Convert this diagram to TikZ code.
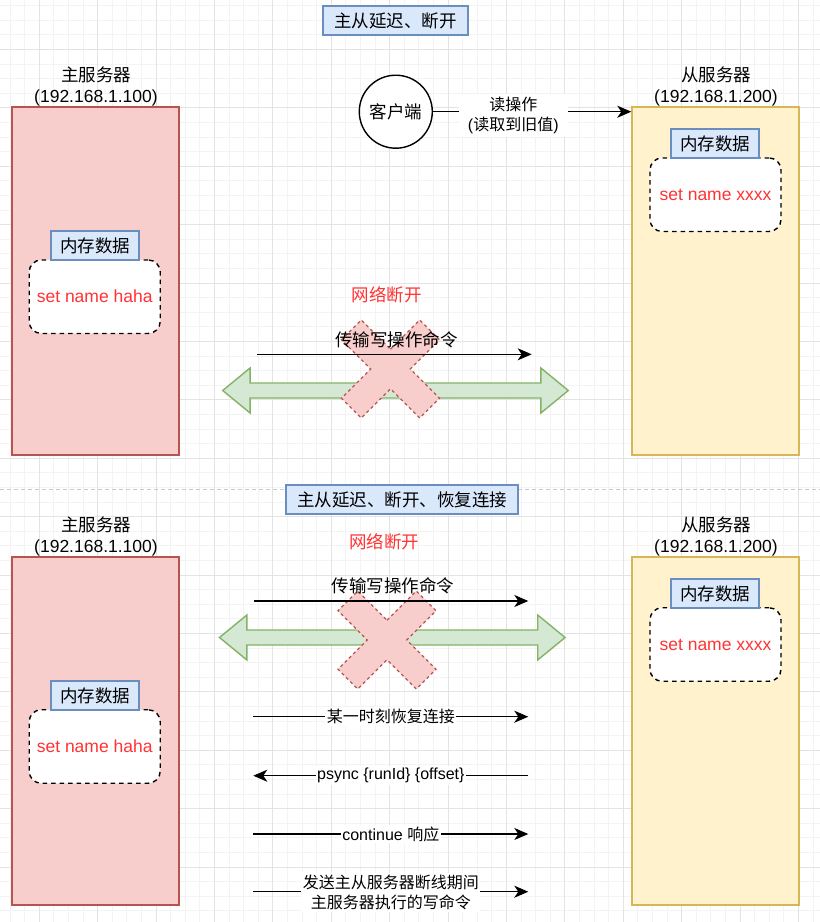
\documentclass[tikz,border=0pt]{standalone}
\usepackage{fontspec}
\setmainfont{Liberation Sans}
\newfontfamily\cjk{Noto Sans CJK SC}
\usetikzlibrary{arrows.meta}
\definecolor{redfill}{HTML}{F8CECC}
\definecolor{redline}{HTML}{B85450}
\definecolor{yelfill}{HTML}{FFF2CC}
\definecolor{yelline}{HTML}{D6B656}
\definecolor{bluefill}{HTML}{DAE8FC}
\definecolor{blueline}{HTML}{6C8EBF}
\definecolor{grnfill}{HTML}{D5E8D4}
\definecolor{grnline}{HTML}{82B366}
\definecolor{redtxt}{HTML}{FF3333}
\definecolor{gridmin}{HTML}{F3F3F3}
\definecolor{gridmaj}{HTML}{E3E3E3}
\definecolor{sepcol}{HTML}{C8C8C8}
\tikzset{
  big/.style={font=\fontsize{17.5}{20.5}\selectfont, inner sep=0pt, align=center},
  small/.style={font=\fontsize{16}{20}\selectfont, inner sep=0pt, align=center},
  titlebox/.style={big, draw=blueline, fill=bluefill, line width=1.4pt, minimum height=29pt},
  master/.style={draw=redline, fill=redfill, line width=1.4pt, minimum width=167pt, minimum height=348pt},
  slave/.style={draw=yelline, fill=yelfill, line width=1.4pt, minimum width=167pt, minimum height=348pt},
  memtag/.style={big, draw=blueline, fill=bluefill, line width=1.4pt, minimum width=88pt, minimum height=29pt},
  memdata/.style={big, text=redtxt, draw=black, fill=white, line width=1.4pt, dash pattern=on 4.5pt off 4pt, rounded corners=12pt, minimum width=131pt, minimum height=73.5pt},
  clientnode/.style={big, circle, draw=black, line width=1.4pt, fill=white, minimum size=73pt},
  arr/.style={line width=1.4pt, -{Stealth[length=14pt, width=12pt, inset=4pt]}},
  lbl/.style={small, fill=white, inner xsep=1.5pt, inner ysep=2pt},
  greenarrow/.style={draw=grnline, fill=grnfill, line width=1.4pt},
  crossshape/.style={draw=redline, fill=redfill, line width=1.2pt, dash pattern=on 3pt off 3pt},
  sepline/.style={draw=sepcol, line width=0.8pt, dash pattern=on 4pt off 3pt},
  gmin/.style={draw=gridmin, line width=0.8pt},
  gmaj/.style={draw=gridmaj, line width=0.8pt}
}
\begin{document}
\begin{tikzpicture}[x=1pt, y=-1pt]
\useasboundingbox (0,0) rectangle (820,922);
\fill[white] (0,0) rectangle (820,922);
% grid
\foreach \i in {0,...,58} { \draw[gmin] ({-19.3+14.6*\i},0) -- ++(0,922); }
\foreach \i in {0,...,64} { \draw[gmin] (0,{-9.1+14.6*\i}) -- ++(820,0); }
\foreach \i in {0,...,14} { \draw[gmaj] ({-19.3+58.4*\i},0) -- ++(0,922); }
\foreach \i in {0,...,16} { \draw[gmaj] (0,{-9.1+58.4*\i}) -- ++(820,0); }

% separator
\coordinate (sepL) at (0,489.3);
\coordinate (sepR) at (820,489.3);
\draw[sepline] (sepL) -- (sepR);

% titles
\node[titlebox, minimum width=145pt] (title1) at (395.5,20.5) {\cjk 主从延迟、断开};
\node[titlebox, minimum width=232pt] (title2) at (402,499.5) {\cjk 主从延迟、断开、恢复连接};

% ===== top section =====
\node[master] (m1) at (95.5,281) {};
\node[slave] (s1) at (715.5,281) {};
\node[big] (m1lbl) at (96,86.5) {{\cjk 主服务器}\\(192.168.1.100)};
\node[big] (s1lbl) at (716,86.5) {{\cjk 从服务器}\\(192.168.1.200)};

\node[memdata] (m1data) at (94.7,296.7) {set name haha};
\node[memtag] (m1tag) at (95,245.5) {\cjk 内存数据};
\node[memdata] (s1data) at (715.5,194.7) {set name xxxx};
\node[memtag] (s1tag) at (715,143.5) {\cjk 内存数据};

\node[clientnode] (client) at (395.8,111.7) {\cjk 客户端};
\coordinate (readend) at (s1.west |- client.east);
\draw[arr] (client.east) -- (readend)
  node[pos=0.405, small, fill=white, inner xsep=9pt, inner ysep=3pt, yshift=-4pt] (readlbl) {{\cjk 读操作}\\({\cjk 读取到旧值})};

\begin{scope}[shift={(395.5,390.5)}]
  \draw[greenarrow] (-172.8,0) -- (-145.4,-22.5) -- (-145.4,-7.5) -- (145.4,-7.5) -- (145.4,-22.5)
    -- (172.8,0) -- (145.4,22.5) -- (145.4,7.5) -- (-145.4,7.5) -- (-145.4,22.5) -- cycle;
\end{scope}
\begin{scope}[shift={(390.5,369)}]
  \draw[crossshape] (0,-19.8) -- (29.2,-49.0) -- (49.0,-29.2) -- (19.8,0) -- (49.0,29.2) -- (29.2,49.0)
    -- (0,19.8) -- (-29.2,49.0) -- (-49.0,29.2) -- (-19.8,0) -- (-49.0,-29.2) -- (-29.2,-49.0) -- cycle;
\end{scope}
\node[big, text=redtxt] (net1) at (386.7,295) {\cjk 网络断开};
\node[big] (trans1) at (396.7,340) {\cjk 传输写操作命令};
\coordinate (t1L) at (257.3,354.3);
\coordinate (t1R) at (531.7,354.3);
\draw[arr] (t1L) -- (t1R);

% ===== bottom section =====
\node[master] (m2) at (95.5,731) {};
\node[slave] (s2) at (715.5,731) {};
\node[big] (m2lbl) at (96,536.5) {{\cjk 主服务器}\\(192.168.1.100)};
\node[big] (s2lbl) at (716,536.5) {{\cjk 从服务器}\\(192.168.1.200)};

\node[memdata] (m2data) at (94.7,746.5) {set name haha};
\node[memtag] (m2tag) at (95,695.5) {\cjk 内存数据};
\node[memdata] (s2data) at (715.5,644.5) {set name xxxx};
\node[memtag] (s2tag) at (715,593.5) {\cjk 内存数据};

\begin{scope}[shift={(392.3,637.5)}]
  \draw[greenarrow] (-172.8,0) -- (-145.4,-22.5) -- (-145.4,-7.5) -- (145.4,-7.5) -- (145.4,-22.5)
    -- (172.8,0) -- (145.4,22.5) -- (145.4,7.5) -- (-145.4,7.5) -- (-145.4,22.5) -- cycle;
\end{scope}
\begin{scope}[shift={(387,640)}]
  \draw[crossshape] (0,-19.8) -- (29.2,-49.0) -- (49.0,-29.2) -- (19.8,0) -- (49.0,29.2) -- (29.2,49.0)
    -- (0,19.8) -- (-29.2,49.0) -- (-49.0,29.2) -- (-19.8,0) -- (-49.0,-29.2) -- (-29.2,-49.0) -- cycle;
\end{scope}
\node[big, text=redtxt] (net2) at (384,542) {\cjk 网络断开};
\node[big] (trans2) at (393,586) {\cjk 传输写操作命令};
\coordinate (t2L) at (254,601);
\coordinate (t2R) at (528.3,601);
\draw[arr] (t2L) -- (t2R);

\coordinate (a1L) at (253.3,716.7);
\coordinate (a1R) at (528.3,716.7);
\draw[arr] (a1L) -- (a1R) node[midway, lbl] (a1lbl) {\cjk 某一时刻恢复连接};

\coordinate (a2L) at (253.3,775.7);
\coordinate (a2R) at (528.3,775.7);
\draw[arr] (a2R) -- (a2L) node[midway, lbl] (a2lbl) {psync \{runId\} \{offset\}};

\coordinate (a3L) at (253.3,834);
\coordinate (a3R) at (528.3,834);
\draw[arr] (a3L) -- (a3R) node[midway, lbl] (a3lbl) {continue {\cjk 响应}};

\coordinate (a4L) at (253.3,891.7);
\coordinate (a4R) at (528.3,891.7);
\draw[arr] (a4L) -- (a4R) node[midway, lbl, yshift=-1pt] (a4lbl) {{\cjk 发送主从服务器断线期间}\\{\cjk 主服务器执行的写命令}};
\end{tikzpicture}
\end{document}
